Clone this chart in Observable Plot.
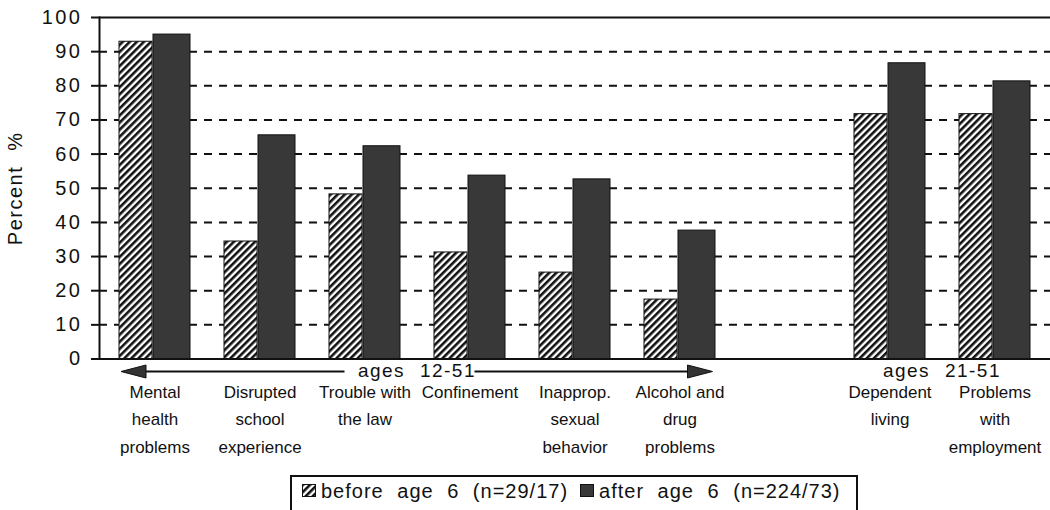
<!DOCTYPE html>
<html>
<head>
<meta charset="utf-8">
<script src="https://cdn.jsdelivr.net/npm/d3@7"></script>
<script src="https://cdn.jsdelivr.net/npm/@observablehq/plot@0.6"></script>
<style>
  html, body { margin: 0; padding: 0; background: #fff; }
  #wrap { position: relative; width: 1050px; height: 510px; overflow: hidden; font-family: "Liberation Sans", Arial, sans-serif; color: #111; }
  #wrap svg [aria-label="y-axis tick label"] text { letter-spacing: 2.5px; }
  #wrap svg [aria-label="y-axis label"] { letter-spacing: 1.5px; word-spacing: 8px; }
  #wrap svg .span-label { letter-spacing: 1.5px; word-spacing: 8px; }
  .legend { position: absolute; left: 290px; top: 475px; width: 568px; height: 50px; border: 2px solid #111; box-sizing: border-box;
            font-size: 20px; letter-spacing: 1px; word-spacing: 7px; line-height: 26px; padding-left: 10px; white-space: nowrap; }
  .legend .item { display: inline-flex; align-items: center; }
  .legend .sw { width: 14px; height: 13px; margin-right: 5px; display: inline-block; }
  .legend .item + .item { margin-left: 12px; }
</style>
</head>
<body>
<div id="wrap"></div>
<script>
// ---- data ----
const categories = [
  "Mental health problems",
  "Disrupted school experience",
  "Trouble with the law",
  "Confinement",
  "Inapprop. sexual behavior",
  "Alcohol and drug problems",
  "(gap)",
  "Dependent living",
  "Problems with employment"
];
const tickLabels = [
  "Mental\nhealth\nproblems",
  "Disrupted\nschool\nexperience",
  "Trouble with\nthe law",
  "Confinement",
  "Inapprop.\nsexual\nbehavior",
  "Alcohol and\ndrug\nproblems",
  "",
  "Dependent\nliving",
  "Problems\nwith\nemployment"
];
const beforeAge6 = [92.9, 34.4, 48.2, 31.2, 25.3, 17.4, null, 71.7, 71.7];
const afterAge6  = [95.0, 65.5, 62.3, 53.7, 52.6, 37.6, null, 86.6, 81.3];
const yTicks = [0, 10, 20, 30, 40, 50, 60, 70, 80, 90, 100];
const gridTicks = [10, 20, 30, 40, 50, 60, 70, 80, 90];
const seriesNames = ["before age 6 (n=29/17)", "after age 6 (n=224/73)"];
const spanLabels = [
  {category: "Confinement", label: "ages 12-51"},
  {category: "Problems with employment", label: "ages 21-51"}
];
const spanArrows = [
  {from: "Trouble with the law", to: "Mental health problems"},
  {from: "Confinement", to: "Alcohol and drug problems"}
];

// ---- derived table ----
const rows = categories.map((c, i) => ({category: c, before: beforeAge6[i], after: afterAge6[i]}))
  .filter(d => d.before != null);
const labelOf = new Map(categories.map((c, i) => [c, tickLabels[i]]));

const font = '"Liberation Sans", Arial, sans-serif';
const chart = Plot.plot({
  width: 1050,
  height: 465,
  marginLeft: 99,
  marginRight: 0,
  marginTop: 17,
  marginBottom: 106.5,
  style: {fontFamily: font, fontSize: "17px", color: "#111", background: "transparent", overflow: "visible"},
  x: {domain: categories, paddingInner: 0.32, paddingOuter: 0.16, align: 0.5},
  y: {domain: [0, 100]},
  marks: [
    Plot.ruleY(gridTicks, {stroke: "#111", strokeWidth: 2, strokeDasharray: "8,7"}),
    Plot.barY(rows, {x: "category", y: "before", fill: "url(#hatch)", stroke: "#111", strokeWidth: 1, insetRight: 38}),
    Plot.barY(rows, {x: "category", y: "after", fill: "#383838", stroke: "#111", strokeWidth: 1, insetLeft: 34}),
    Plot.ruleY([0, 100], {stroke: "#111", strokeWidth: 2}),
    Plot.frame({anchor: "left", stroke: "#111", strokeWidth: 2}),
    Plot.axisY({ticks: yTicks, tickSize: 8, tickPadding: 9, fontSize: 20, strokeWidth: 2,
      label: "Percent %", labelAnchor: "center", labelOffset: 92, labelArrow: "none"}),
    Plot.axisX({tickSize: 0, tickPadding: 19, fontSize: 17, lineHeight: 1.62,
      tickFormat: d => labelOf.get(d), label: null}),
    Plot.text(spanLabels, {x: "category", y: 0, text: "label", textAnchor: "end", dx: 6, dy: 11.5,
      fontSize: 19, className: "span-label"})
  ]
});

// hatch pattern
const defs = d3.select(chart).insert("defs", ":first-child");
const pat = defs.append("pattern").attr("id", "hatch").attr("patternUnits", "userSpaceOnUse")
  .attr("width", 5).attr("height", 5).attr("patternTransform", "rotate(45)");
pat.append("rect").attr("width", 5).attr("height", 5).attr("fill", "#fff");
pat.append("rect").attr("width", 2.6).attr("height", 5).attr("fill", "#111");

// span arrows drawn via the plot's own scales
const sx = chart.scale("x"), sy = chart.scale("y");
const center = c => sx.apply(c) + sx.bandwidth / 2;
const yA = sy.apply(0) + 13;
const ends = [
  {tail: center(spanArrows[0].from) - 20, tip: sx.apply(spanArrows[0].to) + 2},
  {tail: center(spanArrows[1].from) + 5, tip: center(spanArrows[1].to) + 33}
];
const g = d3.select(chart).append("g").attr("aria-label", "span arrows");
for (const {tail, tip} of ends) {
  const dir = Math.sign(tip - tail), hl = 25, hw = 6.5;
  const base = tip - dir * hl;
  g.append("line").attr("x1", tail).attr("x2", base).attr("y1", yA).attr("y2", yA)
    .attr("stroke", "#111").attr("stroke-width", 2);
  g.append("path").attr("d", `M${tip},${yA}L${base},${yA - hw}L${base},${yA + hw}Z`).attr("fill", "#333").attr("stroke", "#111");
}

const wrap = document.getElementById("wrap");
wrap.appendChild(chart);

// legend
const legend = document.createElement("div");
legend.className = "legend";
legend.innerHTML =
  `<span class="item"><svg class="sw" viewBox="0 0 14 13"><defs><pattern id="hatch2" patternUnits="userSpaceOnUse" width="5" height="5" patternTransform="rotate(45)"><rect width="5" height="5" fill="#fff"/><rect width="2.6" height="5" fill="#111"/></pattern></defs><rect x="0.5" y="0.5" width="13" height="12" fill="url(#hatch2)" stroke="#111"/></svg>${seriesNames[0]}</span>` +
  `<span class="item"><svg class="sw" viewBox="0 0 14 13"><rect x="0.5" y="0.5" width="13" height="12" fill="#383838" stroke="#111"/></svg>${seriesNames[1]}</span>`;
wrap.appendChild(legend);
</script>
</body>
</html>
